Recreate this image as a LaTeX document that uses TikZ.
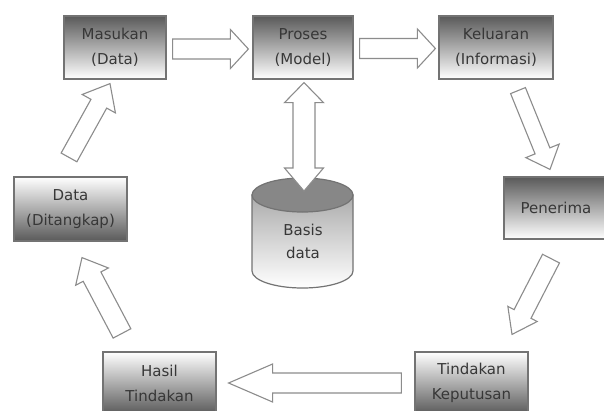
\documentclass[tikz,border=0pt]{standalone}
\usepackage{fontspec}
\setmainfont{DejaVu Sans}
\usetikzlibrary{calc}
\definecolor{boxdark}{RGB}{90,90,90}
\definecolor{edgegray}{RGB}{115,115,115}
\definecolor{arrowedge}{RGB}{140,140,140}
\definecolor{txt}{RGB}{55,55,55}
\definecolor{cylgray}{RGB}{135,135,135}
\newcommand\blockarrow[5]{%
  \coordinate (ba-h) at ($(#2)!#5pt!(#1)$);
  \draw[blockarr] ($(#1)!#3pt!90:(#2)$) -- ($(ba-h)!#3pt!90:(#2)$) -- ($(ba-h)!#4pt!90:(#2)$) -- (#2)
     -- ($(ba-h)!#4pt!-90:(#2)$) -- ($(ba-h)!#3pt!-90:(#2)$) -- ($(#1)!#3pt!-90:(#2)$) -- cycle;}
\tikzset{
  box/.style={draw=edgegray, line width=1.2pt, minimum height=63pt, inner sep=0pt, align=center,
    text=txt, font=\fontsize{15}{25}\selectfont},
  darktop/.style={box, top color=boxdark, bottom color=white},
  darkbot/.style={box, top color=white, bottom color=boxdark},
  blockarr/.style={draw=arrowedge, fill=white, line width=1.1pt, line join=miter},
  cyltext/.style={text=txt, align=center, font=\fontsize{15}{23}\selectfont},
}
\begin{document}
\begin{tikzpicture}[x=1pt,y=-1pt]
\useasboundingbox (0,0) rectangle (604,410);
\fill[white] (0,0) rectangle (604,410);

% boxes
\node[darktop, minimum width=102pt] (masukan) at (115,47.5) {Masukan\\(Data)};
\node[darktop, minimum width=100pt] (proses) at (303,47.5) {Proses\\(Model)};
\node[darktop, minimum width=114pt] (keluaran) at (496,47.5) {Keluaran\\(Informasi)};
\node[darktop, minimum width=104pt, minimum height=62pt] (penerima) at (556,208) {Penerima};
\node[darkbot, minimum width=113pt, minimum height=64pt] (data) at (70.5,209) {Data\\(Ditangkap)};
\node[darkbot, minimum width=113pt, minimum height=62pt] (hasil) at (159.5,383) {Hasil\\Tindakan};
\node[darkbot, minimum width=113pt, minimum height=62pt] (tindakan) at (471.5,383) {Tindakan\\Keputusan};

% cylinder (Basis data)
\coordinate (cyltop) at (302.5,178);
\shade[top color=gray!65, bottom color=white, draw=edgegray, line width=1.2pt]
  (252,195) -- (252,271) arc[start angle=180, end angle=0, x radius=50.5, y radius=17] -- (353,195) -- cycle;
\draw[draw=edgegray, line width=1.2pt, fill=cylgray] (302.5,195) ellipse[x radius=50.5, y radius=17];
\node[cyltext] (basis) at (303,241) {Basis\\data};

% double arrow Proses <-> Basis data
\coordinate (dbt) at ($(proses.south)+(1,3)$);
\coordinate (dbb) at ($(cyltop)+(1.5,13)$);
\draw[blockarr] (dbt) -- ($(dbt)+(19.5,20)$) -- ($(dbt)+(11,20)$) -- ($(dbb)+(11,-23)$) -- ($(dbb)+(19.5,-23)$)
  -- (dbb) -- ($(dbb)+(-19.5,-23)$) -- ($(dbb)+(-11,-23)$) -- ($(dbt)+(-11,20)$) -- ($(dbt)+(-19.5,20)$) -- cycle;

% arrow end points
\coordinate (a1s) at ($(masukan.east)+(6,1.5)$);
\coordinate (a1e) at ($(proses.west)+(-4,1.5)$);
\coordinate (a2s) at ($(proses.east)+(6,1)$);
\coordinate (a2e) at ($(keluaran.west)+(-3,1)$);
\coordinate (a3s) at ($(keluaran.south)+(22,11)$);
\coordinate (a3e) at ($(penerima.north)+(-6,-7)$);
\coordinate (a4s) at ($(penerima.south)+(-5,19)$);
\coordinate (a4e) at ($(tindakan.north)+(40.5,-17)$);
\coordinate (a5s) at ($(tindakan.west)+(-13,0)$);
\coordinate (a5e) at ($(hasil.east)+(12,0)$);
\coordinate (a6s) at ($(hasil.north)+(-37.5,-18)$);
\coordinate (a6e) at ($(data.south)+(11.5,16)$);
\coordinate (a7s) at ($(data.north)+(-1.5,-19)$);
\coordinate (a7e) at ($(masukan.south)+(-5,4)$);

\blockarrow{a1s}{a1e}{10}{19.5}{18}
\blockarrow{a2s}{a2e}{10}{19.5}{18}
\blockarrow{a3s}{a3e}{8}{18}{20}
\blockarrow{a4s}{a4e}{9.5}{16.5}{23}
\blockarrow{a5s}{a5e}{10}{19}{44}
\blockarrow{a6s}{a6e}{10}{18.5}{21.5}
\blockarrow{a7s}{a7e}{9}{19}{23}
\end{tikzpicture}
\end{document}
